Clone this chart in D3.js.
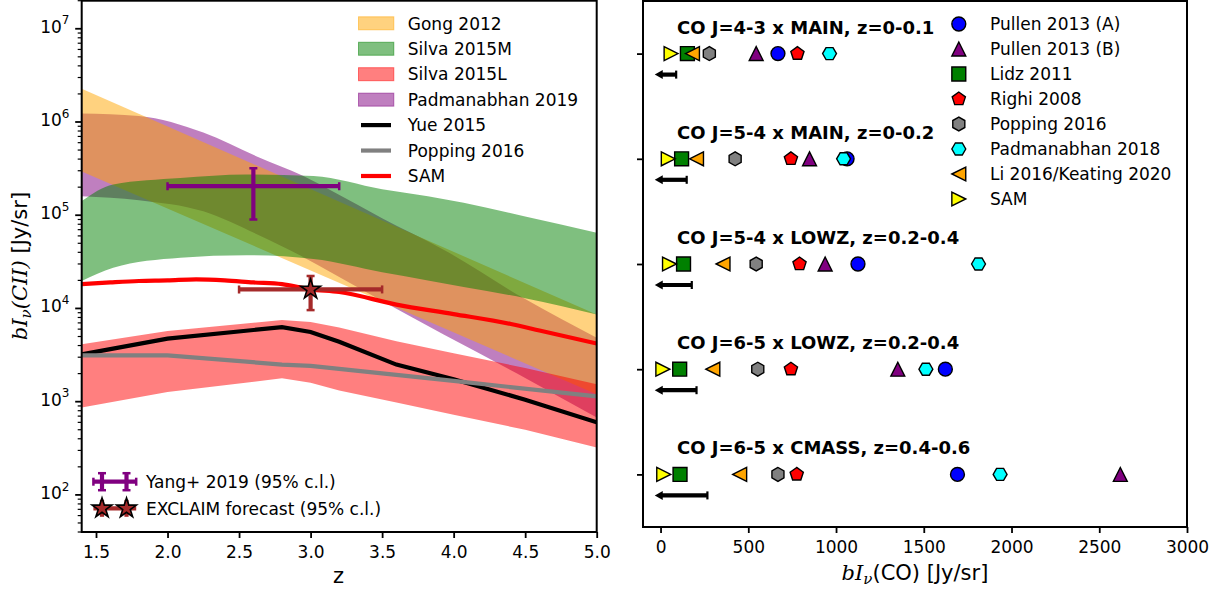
<!DOCTYPE html>
<html><head><meta charset="utf-8">
<script src="https://cdn.jsdelivr.net/npm/d3@7"></script>
<style>
body{margin:0;background:#fff;}
svg text{font-family:"DejaVu Sans",sans-serif;fill:#000;}
</style></head><body>
<svg id="c" width="1222" height="592"></svg>
<script>
// ================= DATA (left panel) =================
const zGong = [1.4, 5.0];
const gongLow = [2.95e5, 1.2e3];
const gongHigh = [2.27e6, 8.6e3];

const zSilvaM = [1.4, 1.62, 2.09, 2.55, 3.02, 3.5, 3.82, 4.07, 4.5, 5.0];
const silvaMHigh = [1.42e5, 2.14e5, 2.51e5, 2.74e5, 2.63e5, 1.9e5, 1.6e5, 1.36e5, 9.7e4, 6.5e4];
const silvaMLow = [1.97e4, 2.74e4, 3.5e4, 3.72e4, 3.4e4, 2.45e4, 2.0e4, 1.7e4, 1.29e4, 8.6e3];

const zSilvaL = [1.4, 2.0, 2.8, 3.0, 3.2, 3.6, 4.0, 4.5, 5.0];
const silvaLHigh = [4.13e3, 5.73e3, 7.5e3, 7.16e3, 6.24e3, 4.45e3, 3.3e3, 2.3e3, 1.54e3];
const silvaLLow = [865, 1270, 1780, 1600, 1320, 980, 725, 500, 322];

const zPad = [1.4, 1.8, 2.25, 2.62, 2.95, 3.15, 3.5, 3.93, 4.5, 5.0];
const padHigh = [1.23e6, 1.16e6, 7.7e5, 4.3e5, 2.63e5, 1.82e5, 9.3e4, 4.27e4, 1.26e4, 4.86e3];
const padLow = [1.6e5, 1.45e5, 1.1e5, 6.3e4, 3.55e4, 2.4e4, 1.2e4, 5.25e3, 1.8e3, 675];

const zYue = [1.4, 2.0, 2.8, 3.0, 3.2, 3.6, 4.0, 4.5, 5.0];
const yue = [3.22e3, 4.75e3, 6.3e3, 5.6e3, 4.4e3, 2.5e3, 1.74e3, 1.05e3, 600];

const zPopping = [1.4, 2.0, 2.8, 3.0, 4.0, 5.0];
const popping = [3.14e3, 3.14e3, 2.5e3, 2.42e3, 1.67e3, 1.14e3];

const zSam = [1.4, 1.6, 1.8, 2.0, 2.2, 2.4, 2.6, 2.8, 3.0, 3.2, 3.6, 4.0, 4.4, 4.6, 5.0];
const samCII = [1.82e4, 1.9e4, 1.97e4, 2.0e4, 2.05e4, 2.0e4, 1.9e4, 1.82e4, 1.6e4, 1.5e4, 1.1e4, 8.7e3, 6.8e3, 5.8e3, 4.2e3];

const yangZ = [2.6], yangZErr = [0.6], yangVal = [2.05e5], yangLow = [9.0e4], yangHigh = [3.2e5];
const exZ = [3.0], exZErr = [0.5], exVal = [1.6e4], exLow = [9.6e3], exHigh = [2.23e4];

const xTicksL = [1.5, 2.0, 2.5, 3.0, 3.5, 4.0, 4.5, 5.0];
const yDecadesL = [2, 3, 4, 5, 6, 7];

// ================= DATA (right panel) =================
const rowLabels = ["CO J=4-3 x MAIN, z=0-0.1", "CO J=5-4 x MAIN, z=0-0.2", "CO J=5-4 x LOWZ, z=0.2-0.4",
                   "CO J=6-5 x LOWZ, z=0.2-0.4", "CO J=6-5 x CMASS, z=0.4-0.6"];
const models = ["Pullen 2013 (A)", "Pullen 2013 (B)", "Lidz 2011", "Righi 2008", "Popping 2016",
                "Padmanabhan 2018", "Li 2016/Keating 2020", "SAM"];
const pullenA = [669, 1063, 1125, 1623, 1692];
const pullenB = [545, 849, 938, 1352, 2620];
const lidz = [153, 120, 131, 109, 111];
const righi = [780, 743, 792, 743, 776];
const poppingCO = [278, 425, 545, 554, 669];
const padmanabhanCO = [963, 1043, 1812, 1512, 1935];
const liKeating = [182, 205, 356, 298, 451];
const samCO = [60, 44, 51, 13, 18];
const limitHigh = [89, 149, 178, 205, 267];
const limitLow = [-33, -33, -33, -33, -33];
const xTicksR = [0, 500, 1000, 1500, 2000, 2500, 3000];

// ================= DRAWING =================
const svg = d3.select("#c");
const FS = 17;

// ---------- left panel ----------
const xL = d3.scaleLinear().domain([1.4, 5.0]).range([81.7, 596.7]);
const yL = d3.scaleLog().domain([40, 2e7]).range([532, 0.7]);

svg.append("defs").append("clipPath").attr("id", "clipL")
  .append("rect").attr("x", 81.7).attr("y", 0.7).attr("width", 515).attr("height", 531.3);
const gL = svg.append("g").attr("clip-path", "url(#clipL)");

function band(z, lo, hi, color, curve) {
  const data = z.map((v, i) => ({z: v, lo: lo[i], hi: hi[i]}));
  gL.append("path").datum(data)
    .attr("d", d3.area().x(d => xL(d.z)).y0(d => yL(d.lo)).y1(d => yL(d.hi)).curve(curve))
    .attr("fill", color).attr("fill-opacity", 0.5);
}
band(zPad, padLow, padHigh, "#800080", d3.curveMonotoneX);
band(zGong, gongLow, gongHigh, "#FFA500", d3.curveLinear);
band(zSilvaM, silvaMLow, silvaMHigh, "#008000", d3.curveMonotoneX);
band(zSilvaL, silvaLLow, silvaLHigh, "#FF0000", d3.curveLinear);

function line(z, v, color, curve) {
  const data = z.map((d, i) => ({z: d, v: v[i]}));
  gL.append("path").datum(data)
    .attr("d", d3.line().x(d => xL(d.z)).y(d => yL(d.v)).curve(curve))
    .attr("fill", "none").attr("stroke", color).attr("stroke-width", 4.2);
}
line(zYue, yue, "#000000", d3.curveLinear);
line(zPopping, popping, "#808080", d3.curveLinear);
line(zSam, samCII, "#FF0000", d3.curveMonotoneX);

function starPath(R) {
  const pts = [];
  for (let i = 0; i < 10; i++) {
    const r = i % 2 === 0 ? R : R * 0.381966;
    const a = Math.PI / 2 + i * Math.PI / 5;
    pts.push([r * Math.cos(a), -r * Math.sin(a)]);
  }
  return "M" + pts.map(p => p.join(",")).join("L") + "Z";
}

function errbar(g, cx, cy, x0, x1, y0, y1, color, cap) {
  g.append("line").attr("x1", x0).attr("x2", x1).attr("y1", cy).attr("y2", cy)
    .attr("stroke", color).attr("stroke-width", 4.2);
  g.append("line").attr("x1", cx).attr("x2", cx).attr("y1", y0).attr("y2", y1)
    .attr("stroke", color).attr("stroke-width", 4.2);
  [[x0, cy, 0], [x1, cy, 0], [cx, y0, 1], [cx, y1, 1]].forEach(([x, y, vert]) => {
    if (vert) g.append("line").attr("x1", x - cap).attr("x2", x + cap).attr("y1", y).attr("y2", y)
      .attr("stroke", color).attr("stroke-width", 2.5);
    else g.append("line").attr("x1", x).attr("x2", x).attr("y1", y - cap).attr("y2", y + cap)
      .attr("stroke", color).attr("stroke-width", 2.5);
  });
}
yangZ.forEach((z, i) => errbar(gL, xL(z), yL(yangVal[i]), xL(z - yangZErr[i]), xL(z + yangZErr[i]),
  yL(yangHigh[i]), yL(yangLow[i]), "#800080", 4));
exZ.forEach((z, i) => {
  errbar(gL, xL(z), yL(exVal[i]), xL(z - exZErr[i]), xL(z + exZErr[i]), yL(exHigh[i]), yL(exLow[i]), "#A52A2A", 4);
  gL.append("path").attr("d", starPath(10.4)).attr("transform", `translate(${xL(z)},${yL(exVal[i])})`)
    .attr("fill", "#A52A2A").attr("stroke", "#000").attr("stroke-width", 1.6);
});

// frame + axes (left)
svg.append("rect").attr("x", 81.7).attr("y", 0.7).attr("width", 515).attr("height", 531.3)
  .attr("fill", "none").attr("stroke", "#000").attr("stroke-width", 2);
const axL = svg.append("g").attr("transform", "translate(0,532)")
  .call(d3.axisBottom(xL).tickValues(xTicksL).tickFormat(d3.format(".1f")).tickSize(6).tickPadding(8));
axL.select(".domain").remove();
axL.selectAll("line").attr("stroke-width", 1.8);
axL.selectAll("text").attr("font-size", FS).attr("font-family", "DejaVu Sans");

const gY = svg.append("g");
yDecadesL.forEach(d => {
  const yy = yL(Math.pow(10, d));
  gY.append("line").attr("x1", 81.7 - 6.5).attr("x2", 81.7).attr("y1", yy).attr("y2", yy)
    .attr("stroke", "#000").attr("stroke-width", 1.8);
  const t = gY.append("text").attr("x", 69.5).attr("y", yy + 4).attr("text-anchor", "end")
    .attr("font-size", FS).text("10");
  t.append("tspan").attr("dy", -8.3).attr("font-size", 12).text(d);
});
for (let d = 1; d <= 7; d++) {
  for (let k = 2; k <= 9; k++) {
    const v = k * Math.pow(10, d);
    if (v < 40 || v > 2e7) continue;
    const yy = yL(v);
    gY.append("line").attr("x1", 81.7 - 4).attr("x2", 81.7).attr("y1", yy).attr("y2", yy)
      .attr("stroke", "#000").attr("stroke-width", 1.2);
  }
}

// axis labels (left)
svg.append("text").attr("x", 338.5).attr("y", 583).attr("text-anchor", "middle").attr("font-size", 21).text("z");
const ylab = svg.append("text").attr("transform", "translate(27,266) rotate(-90)")
  .attr("text-anchor", "middle").attr("font-size", 21);
ylab.append("tspan").attr("font-family", "DejaVu Serif").attr("font-style", "italic").text("bI");
ylab.append("tspan").attr("font-family", "DejaVu Serif").attr("font-style", "italic")
  .attr("font-size", 15).attr("dy", 4).text("ν");
ylab.append("tspan").attr("font-family", "DejaVu Serif").attr("font-style", "italic").attr("dy", -4).text("(CII)");
ylab.append("tspan").text(" [Jy/sr]");

// top legend (left)
const legL = [
  {label: "Gong 2012", kind: "patch", color: "#FFA500"},
  {label: "Silva 2015M", kind: "patch", color: "#008000"},
  {label: "Silva 2015L", kind: "patch", color: "#FF0000"},
  {label: "Padmanabhan 2019", kind: "patch", color: "#800080"},
  {label: "Yue 2015", kind: "line", color: "#000000"},
  {label: "Popping 2016", kind: "line", color: "#808080"},
  {label: "SAM", kind: "line", color: "#FF0000"}
];
legL.forEach((e, i) => {
  const cy = 23.3 + i * 25.45;
  if (e.kind === "patch") {
    svg.append("rect").attr("x", 358.5).attr("y", cy - 6.5).attr("width", 35.3).attr("height", 13)
      .attr("fill", e.color).attr("fill-opacity", 0.5).attr("stroke", e.color).attr("stroke-opacity", 0.5).attr("stroke-width", 1);
  } else {
    svg.append("line").attr("x1", 361).attr("x2", 391).attr("y1", cy).attr("y2", cy)
      .attr("stroke", e.color).attr("stroke-width", 4.2);
  }
  svg.append("text").attr("x", 407.8).attr("y", cy + 6.2).attr("font-size", FS).text(e.label);
});

// bottom legend (left)
const gLeg2 = svg.append("g");
{
  const cy = 481.7;
  gLeg2.append("line").attr("x1", 93.4).attr("x2", 136.2).attr("y1", cy).attr("y2", cy).attr("stroke", "#800080").attr("stroke-width", 4.2);
  [93.4, 136.2].forEach(x => gLeg2.append("line").attr("x1", x).attr("x2", x).attr("y1", cy - 4).attr("y2", cy + 4).attr("stroke", "#800080").attr("stroke-width", 2.5));
  [102, 126.5].forEach(x => {
    gLeg2.append("line").attr("x1", x).attr("x2", x).attr("y1", cy - 8.5).attr("y2", cy + 8.5).attr("stroke", "#800080").attr("stroke-width", 4.2);
    [cy - 8.5, cy + 8.5].forEach(y => gLeg2.append("line").attr("x1", x - 4).attr("x2", x + 4).attr("y1", y).attr("y2", y).attr("stroke", "#800080").attr("stroke-width", 2.5));
  });
  gLeg2.append("text").attr("x", 146).attr("y", cy + 6.2).attr("font-size", FS).text("Yang+ 2019 (95% c.l.)");
  const cy2 = 508.3;
  gLeg2.append("line").attr("x1", 93.4).attr("x2", 136.2).attr("y1", cy2).attr("y2", cy2).attr("stroke", "#A52A2A").attr("stroke-width", 4.2);
  [102, 126.5].forEach(x => {
    gLeg2.append("line").attr("x1", x).attr("x2", x).attr("y1", cy2 - 8.5).attr("y2", cy2 + 8.5).attr("stroke", "#A52A2A").attr("stroke-width", 4.2);
    gLeg2.append("path").attr("d", starPath(10.4)).attr("transform", `translate(${x},${cy2})`)
      .attr("fill", "#A52A2A").attr("stroke", "#000").attr("stroke-width", 1.6);
  });
  gLeg2.append("text").attr("x", 146).attr("y", cy2 + 6.2).attr("font-size", FS).text("EXCLAIM forecast (95% c.l.)");
}

// ---------- right panel ----------
const xR = d3.scaleLinear().domain([-100, 3000]).range([643, 1187]);
const yR = d3.scaleLinear().domain([-0.5, 4.5]).range([1, 527]);

function polyPath(n, R, rotDeg) {
  const pts = [];
  for (let i = 0; i < n; i++) {
    const a = Math.PI / 2 + rotDeg * Math.PI / 180 + i * 2 * Math.PI / n;
    pts.push([R * Math.cos(a), -R * Math.sin(a)]);
  }
  return "M" + pts.map(p => p.join(",")).join("L") + "Z";
}
const R = 6.95;
const markerDefs = {
  circle: () => d3.symbol(d3.symbolCircle, Math.PI * R * R)(),
  triUp: () => `M0,${-R}L${-R},${R}L${R},${R}Z`,
  square: () => `M${-R},${-R}H${R}V${R}H${-R}Z`,
  pent: () => polyPath(5, R, 0),
  hex1: () => polyPath(6, R, 0),
  hex2: () => polyPath(6, R, 30),
  triLeft: () => `M${-R},0L${R},${-R}L${R},${R}Z`,
  triRight: () => `M${R},0L${-R},${-R}L${-R},${R}Z`
};
const seriesCO = [pullenA, pullenB, lidz, righi, poppingCO, padmanabhanCO, liKeating, samCO];
const mShapes = ["circle", "triUp", "square", "pent", "hex1", "hex2", "triLeft", "triRight"];
const mColors = ["#0000FF", "#800080", "#008000", "#FF0000", "#808080", "#00FFFF", "#FFA500", "#FFFF00"];

const gR = svg.append("g");
// row labels
rowLabels.forEach((t, i) => {
  gR.append("text").attr("x", 677).attr("y", yR(i) - 20).attr("font-size", 18).attr("font-weight", "bold").text(t);
});
// upper-limit arrows
limitHigh.forEach((v, i) => {
  const yy = yR(i) + 21;
  const xa = xR(limitLow[i]), xb = xR(v);
  gR.append("line").attr("x1", xa + 5).attr("x2", xb).attr("y1", yy).attr("y2", yy).attr("stroke", "#000").attr("stroke-width", 4.2);
  gR.append("line").attr("x1", xb).attr("x2", xb).attr("y1", yy - 4).attr("y2", yy + 4).attr("stroke", "#000").attr("stroke-width", 2.2);
  gR.append("path").attr("d", `M${xa},${yy}L${xa + 8},${yy - 4.5}L${xa + 8},${yy + 4.5}Z`).attr("fill", "#000");
});
// markers
seriesCO.forEach((arr, s) => {
  arr.forEach((v, i) => {
    gR.append("path").attr("d", markerDefs[mShapes[s]]())
      .attr("transform", `translate(${xR(v)},${yR(i)})`)
      .attr("fill", mColors[s]).attr("stroke", "#000").attr("stroke-width", 1.4);
  });
});
// legend right
models.forEach((m, i) => {
  const cy = 24 + i * 25;
  gR.append("path").attr("d", markerDefs[mShapes[i]]()).attr("transform", `translate(958.8,${cy})`)
    .attr("fill", mColors[i]).attr("stroke", "#000").attr("stroke-width", 1.4);
  gR.append("text").attr("x", 990).attr("y", cy + 6.2).attr("font-size", FS).text(m);
});

svg.append("rect").attr("x", 643).attr("y", 1).attr("width", 544).attr("height", 526)
  .attr("fill", "none").attr("stroke", "#000").attr("stroke-width", 2);
const axR = svg.append("g").attr("transform", "translate(0,527)")
  .call(d3.axisBottom(xR).tickValues(xTicksR).tickFormat(d3.format("d")).tickSize(6).tickPadding(8));
axR.select(".domain").remove();
axR.selectAll("line").attr("stroke-width", 1.8);
axR.selectAll("text").attr("font-size", FS).attr("font-family", "DejaVu Sans");
const ayR = svg.append("g").attr("transform", "translate(643,0)")
  .call(d3.axisLeft(yR).tickValues([0, 1, 2, 3, 4]).tickFormat("").tickSize(6));
ayR.select(".domain").remove();
ayR.selectAll("line").attr("stroke-width", 1.8);

const xlabR = svg.append("text").attr("x", 915).attr("y", 580).attr("text-anchor", "middle").attr("font-size", 21);
xlabR.append("tspan").attr("font-family", "DejaVu Serif").attr("font-style", "italic").text("bI");
xlabR.append("tspan").attr("font-family", "DejaVu Serif").attr("font-style", "italic").attr("font-size", 15).attr("dy", 4).text("ν");
xlabR.append("tspan").attr("dy", -4).text("(CO) [Jy/sr]");
</script>
</body></html>
